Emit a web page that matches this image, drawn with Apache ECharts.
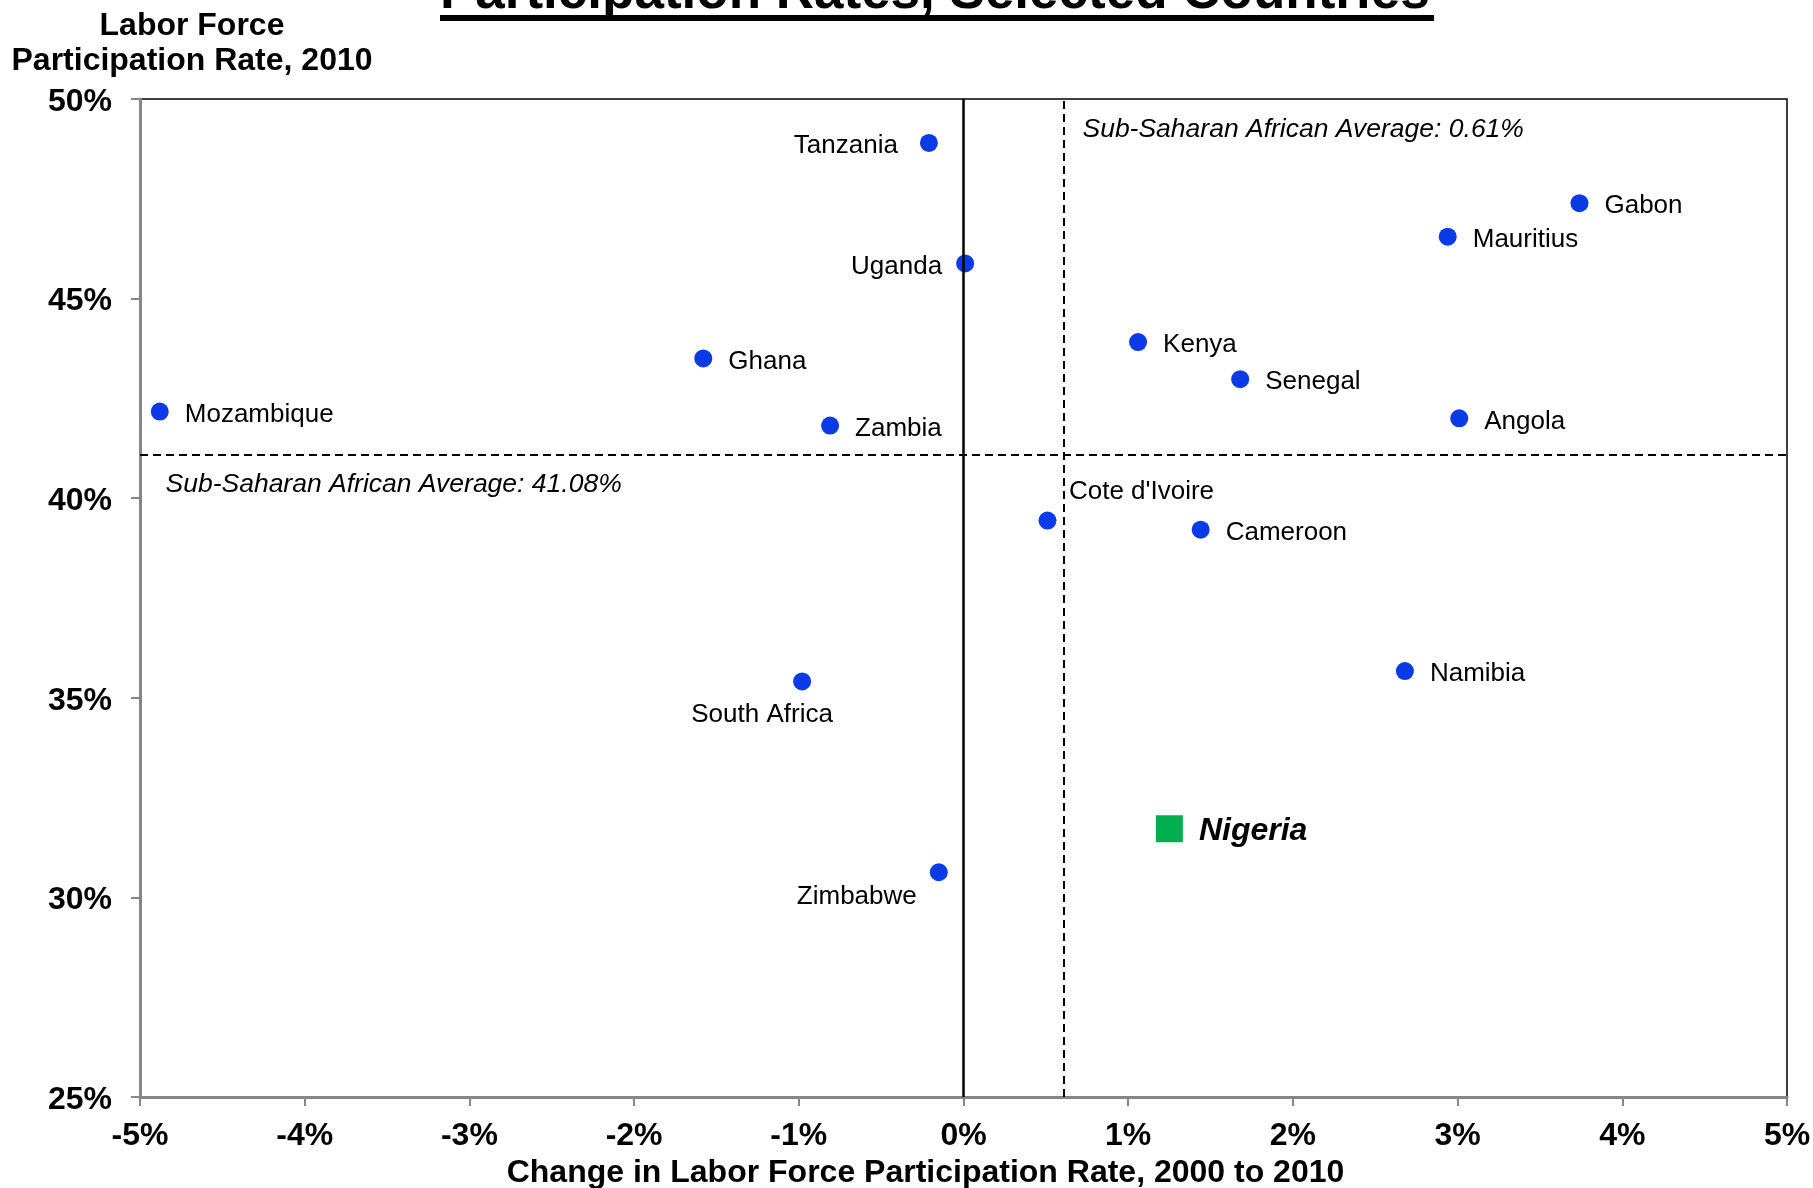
<!DOCTYPE html>
<html>
<head>
<meta charset="utf-8">
<script src="https://cdn.jsdelivr.net/npm/echarts@6/dist/echarts.min.js"></script>
<style>
  html, body { margin: 0; padding: 0; background: #fff; }
  #chart { width: 1813px; height: 1188px; }
</style>
</head>
<body>
<div id="chart"></div>
<script>
// ---- Data ----
const countries = ['Tanzania', 'Uganda', 'Ghana', 'Mozambique', 'Zambia', 'Kenya', 'Senegal', 'Angola', 'Gabon', 'Mauritius', "Cote d'Ivoire", 'Cameroon', 'Namibia', 'South Africa', 'Zimbabwe'];
const changeRate = [-0.21, 0.01, -1.58, -4.88, -0.81, 1.06, 1.68, 3.01, 3.74, 2.94, 0.51, 1.44, 2.68, -0.98, -0.15];
const rate2010 = [48.90, 45.88, 43.50, 42.17, 41.82, 43.91, 42.98, 42.00, 47.39, 46.55, 39.44, 39.21, 35.67, 35.41, 30.63];
const highlightName = 'Nigeria';
const highlightChange = 1.25;
const highlightRate = 31.72;
const avgChange = 0.61;
const avgRate = 41.08;
const xTicks = { min: -5, max: 5, interval: 1 };
const yTicks = { min: 25, max: 50, interval: 5 };
const titleText = 'Participation Rates, Selected Countries';
const yName = 'Labor Force\nParticipation Rate, 2010';
const xName = 'Change in Labor Force Participation Rate, 2000 to 2010';

// ---- Label placement (style only) ----
const labelPlacement = {
  'Tanzania': { position: 'left', distance: 22 },
  'Uganda': { position: 'left', distance: 14 },
  'South Africa': { position: 'inside', offset: [-40, 33] },
  'Zimbabwe': { position: 'inside', offset: [-82, 25] },
  "Cote d'Ivoire": { position: 'inside', offset: [94, -29] }
};

const FONT = '"Liberation Sans", Arial, Helvetica, sans-serif';

const pointData = countries.map((name, i) => {
  const item = { name: name, value: [changeRate[i], rate2010[i]] };
  if (labelPlacement[name]) item.label = Object.assign({}, labelPlacement[name]);
  return item;
});

const chart = echarts.init(document.getElementById('chart'), null, { renderer: 'canvas' });

const option = {
  backgroundColor: '#ffffff',
  animation: false,
  graphic: [
    {
      type: 'text', x: 440, y: -7, z: 10,
      style: {
        text: titleText, font: 'bold 53px ' + FONT, fill: '#000',
        textAlign: 'left', textVerticalAlign: 'middle'
      }
    },
    {
      type: 'rect', z: 10,
      shape: { x: 440, y: 15, width: 994, height: 6 },
      style: { fill: '#000' }
    }
  ],
  grid: {
    left: 140, right: 26, top: 99, bottom: 91,
    containLabel: false, outerBoundsMode: 'none',
    show: true, borderColor: '#000', borderWidth: 1.5, backgroundColor: 'transparent'
  },
  xAxis: {
    type: 'value',
    min: xTicks.min, max: xTicks.max, interval: xTicks.interval,
    name: xName, nameLocation: 'middle', nameGap: 55,
    nameTextStyle: { fontFamily: FONT, fontWeight: 'bold', fontSize: 32, color: '#000', padding: [0, 76, 0, 0] },
    axisLine: { show: true, onZero: false, lineStyle: { color: '#868686', width: 3 } },
    axisTick: { show: true, length: 9, lineStyle: { color: '#868686', width: 2 } },
    axisLabel: { fontFamily: FONT, fontWeight: 'bold', fontSize: 32, color: '#000', margin: 23, formatter: '{value}%' },
    splitLine: { show: false }
  },
  yAxis: {
    type: 'value',
    min: yTicks.min, max: yTicks.max, interval: yTicks.interval,
    name: yName, nameLocation: 'end', nameGap: 20,
    nameTextStyle: { fontFamily: FONT, fontWeight: 'bold', fontSize: 32, lineHeight: 35, color: '#000', align: 'center', padding: [0, 0, 0, 104] },
    axisLine: { show: true, onZero: false, lineStyle: { color: '#868686', width: 3 } },
    axisTick: { show: true, length: 9, lineStyle: { color: '#868686', width: 2 } },
    axisLabel: {
      fontFamily: FONT, fontWeight: 'bold', fontSize: 32, color: '#000', margin: 28,
      formatter: function (v) { return '{t|' + v + '%}'; },
      rich: { t: { fontFamily: FONT, fontWeight: 'bold', fontSize: 32, color: '#000', padding: [6, 0, 0, 0] } }
    },
    splitLine: { show: false }
  },
  series: [
    {
      name: 'Averages',
      type: 'scatter',
      z: 1,
      symbolSize: 1,
      itemStyle: { color: 'rgba(0,0,0,0)', opacity: 1 },
      silent: true,
      data: [
        {
          value: [avgChange, yTicks.max],
          label: {
            show: true, position: [19, 31], align: 'left', verticalAlign: 'middle',
            formatter: 'Sub-Saharan African Average: ' + avgChange.toFixed(2) + '%',
            fontFamily: FONT, fontStyle: 'italic', fontSize: 26.5, color: '#000'
          }
        },
        {
          value: [xTicks.min, avgRate],
          label: {
            show: true, position: [26, 30], align: 'left', verticalAlign: 'middle',
            formatter: 'Sub-Saharan African Average: ' + avgRate.toFixed(2) + '%',
            fontFamily: FONT, fontStyle: 'italic', fontSize: 26.5, color: '#000'
          }
        }
      ],
      markLine: {
        silent: true,
        symbol: ['none', 'none'],
        label: { show: false },
        data: [
          { xAxis: 0, lineStyle: { color: '#000', width: 2.5, type: 'solid', opacity: 1 } },
          { xAxis: avgChange, lineStyle: { color: '#000', width: 2, type: [8, 5], opacity: 1 } },
          { yAxis: avgRate, lineStyle: { color: '#000', width: 2, type: [8, 5], opacity: 1 } }
        ]
      }
    },
    {
      name: 'Countries',
      type: 'scatter',
      z: 3,
      symbol: 'circle',
      symbolSize: 18,
      itemStyle: { color: '#0A3BE6', opacity: 1 },
      label: {
        show: true, position: 'right', distance: 16, offset: [0, 3],
        formatter: '{b}', fontFamily: FONT, fontSize: 26, color: '#000'
      },
      data: pointData
    },
    {
      name: highlightName,
      type: 'scatter',
      z: 3,
      symbol: 'rect',
      symbolSize: 27,
      itemStyle: { color: '#00B050', opacity: 1 },
      label: {
        show: true, position: 'right', distance: 16, offset: [0, 2],
        formatter: '{b}', fontFamily: FONT, fontSize: 32, fontWeight: 'bold', fontStyle: 'italic', color: '#000'
      },
      data: [{ name: highlightName, value: [highlightChange, highlightRate] }]
    }
  ]
};

chart.setOption(option);
</script>
</body>
</html>
